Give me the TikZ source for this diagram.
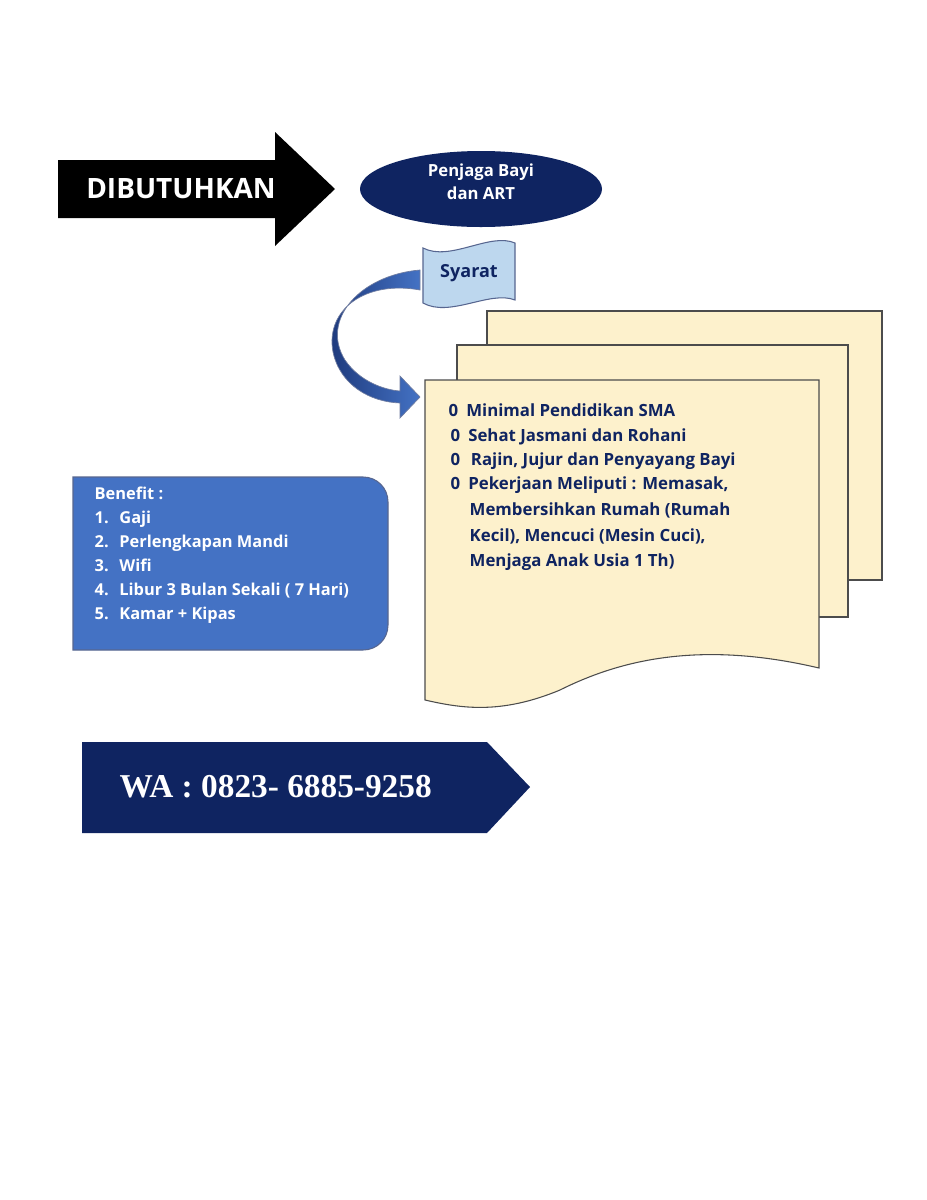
\documentclass[tikz,border=0pt]{standalone}
\usepackage{fontspec}
\setmainfont{Open Sans}
\newfontfamily\serifb{Liberation Serif}
\usetikzlibrary{shapes.geometric}
\definecolor{navy}{HTML}{0F2461}
\definecolor{paper}{HTML}{FDF1CC}
\definecolor{lblue}{HTML}{BDD7EE}
\definecolor{mblue}{HTML}{4472C4}
\begin{document}
\begin{tikzpicture}[x=0.75pt,y=-0.75pt,
  page/.style={fill=paper,draw=black!70,line width=0.8pt},
  btxt/.style={font=\bfseries\fontsize{12.6}{15}\selectfont,text=navy,anchor=west}]
\useasboundingbox (0,0) rectangle (927,1200);
\fill[white] (0,0) rectangle (927,1200);
% black arrow
\fill[black] (58,160) -- (275,160) -- (275,132) -- (335,189) -- (275,246) -- (275,218) -- (58,218) -- cycle;
\node[text=white,font=\bfseries\fontsize{21}{24}\selectfont] (dib) at (181,189) {DIBUTUHKAN};
% ellipse
\fill[navy] (481,189) ellipse [x radius=121,y radius=38];
\node[text=white,font=\bfseries\fontsize{12.5}{17}\selectfont,align=center] (pj) at (481,182) {Penjaga Bayi\\dan ART};
% curved arrow
\shade[left color=navy!80!mblue,right color=mblue,draw=navy!60,line width=0.5pt]
  (420,270) .. controls (360,275) and (320,320) .. (345,360)
  .. controls (360,382) and (385,390) .. (400,391) -- (400,376) -- (420,397) -- (400,418) -- (400,403)
  .. controls (370,402) and (340,385) .. (333,352)
  .. controls (325,310) and (365,280) .. (420,290) -- cycle;
% syarat tape
\draw[fill=lblue,draw=navy!70,line width=0.8pt] (423,248) .. controls (450,262) and (490,232) .. (515,243)
  -- (515,300) .. controls (490,290) and (450,318) .. (423,303) -- cycle;
\node[text=navy,font=\bfseries\fontsize{13.5}{16}\selectfont] (sy) at (469,273) {Syarat};
% pages
\draw[page] (487,311) rectangle (882,580);
\draw[page] (457,345) rectangle (848,617);
\draw[page] (425,380) -- (819,380) -- (819,668) .. controls (700,640) and (620,660) .. (560,690)
  .. controls (500,715) and (460,708) .. (425,700) -- cycle;
\node[btxt] at (444,410) {0\hspace{6pt}Minimal Pendidikan SMA};
\node[btxt] at (446,437) {0\hspace{6pt}Sehat Jasmani dan Rohani};
\node[btxt] at (446,461) {0\hspace{8pt}Rajin, Jujur dan Penyayang Bayi};
\node[btxt] at (446,485) {0\hspace{6pt}Pekerjaan Meliputi : Memasak,};
\node[btxt] at (465,510) {Membersihkan Rumah (Rumah};
\node[btxt] at (465,536) {Kecil), Mencuci (Mesin Cuci),};
\node[btxt] at (465,562) {Menjaga Anak Usia 1 Th)};
% benefit box
\draw[fill=mblue,draw=navy!70,line width=0.8pt] (73,477) -- (363,477) .. controls (377,477) and (388,488) .. (388,502)
  -- (388,625) .. controls (388,639) and (377,650) .. (363,650) -- (73,650) -- cycle;
\node[text=white,font=\bfseries\fontsize{12.3}{15}\selectfont,anchor=north west,align=left] (ben) at (90,482)
 {Benefit :\\[3pt]
  \hspace{0pt}1.\hspace{8pt}Gaji\\[3pt]
  2.\hspace{8pt}Perlengkapan Mandi\\[3pt]
  3.\hspace{8pt}Wifi\\[3pt]
  4.\hspace{8pt}Libur 3 Bulan Sekali ( 7 Hari)\\[3pt]
  5.\hspace{8pt}Kamar + Kipas};
% WA
\fill[navy] (82,742) -- (487,742) -- (530,787) -- (487,833) -- (82,833) -- cycle;
\node[text=white,font=\serifb\bfseries\fontsize{25}{28}\selectfont,anchor=west] (wa) at (115,787) {WA : 0823- 6885-9258};
\end{tikzpicture}
\end{document}
